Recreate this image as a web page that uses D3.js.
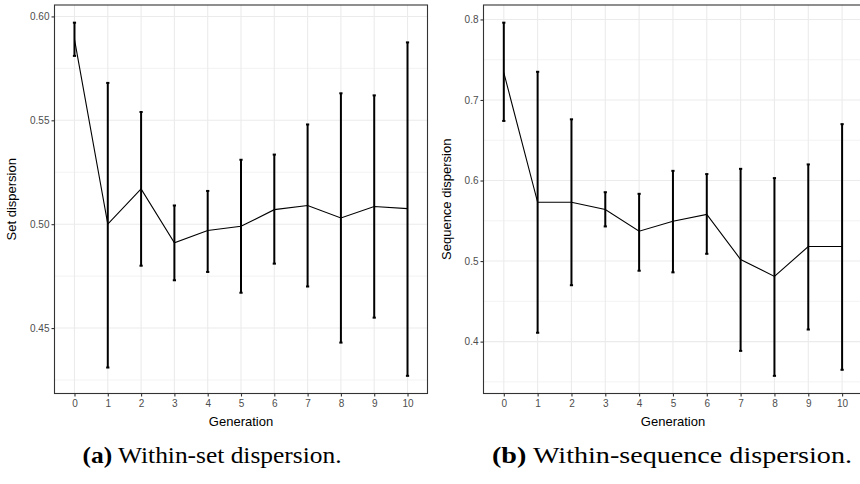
<!DOCTYPE html>
<html>
<head>
<meta charset="utf-8">
<script src="https://cdn.jsdelivr.net/npm/d3@7"></script>
<style>
  body { margin: 0; background: #fff; }
  svg { display: block; }
</style>
</head>
<body>
<div id="chart"></div>
<script>
var generations = [0, 1, 2, 3, 4, 5, 6, 7, 8, 9, 10];

// (a) within-set dispersion
var setMean  = [0.589, 0.500, 0.517, 0.491, 0.497, 0.499, 0.507, 0.509, 0.503, 0.5085, 0.5075];
var setLow   = [0.581, 0.431, 0.480, 0.473, 0.477, 0.467, 0.481, 0.470, 0.443, 0.455, 0.427];
var setHigh  = [0.597, 0.568, 0.554, 0.509, 0.516, 0.531, 0.5335, 0.548, 0.563, 0.562, 0.5875];
var setTicks = [0.45, 0.50, 0.55, 0.60];

// (b) within-sequence dispersion
var seqMean  = [0.734, 0.573, 0.573, 0.564, 0.537, 0.5495, 0.558, 0.502, 0.481, 0.518, 0.518];
var seqLow   = [0.674, 0.411, 0.470, 0.543, 0.488, 0.486, 0.509, 0.3885, 0.3575, 0.415, 0.365];
var seqHigh  = [0.796, 0.735, 0.676, 0.5855, 0.5835, 0.612, 0.608, 0.6145, 0.603, 0.620, 0.670];
var seqTicks = [0.4, 0.5, 0.6, 0.7, 0.8];

var svg = d3.select("#chart").append("svg")
  .attr("width", 860)
  .attr("height", 484);

function rows(mean, low, high) {
  return generations.map(function(g, i) {
    return {gen: g, mean: mean[i], low: low[i], high: high[i]};
  });
}

function panel(opt) {
  var data = rows(opt.mean, opt.low, opt.high);
  var left = opt.left, right = opt.right, top = 5, bottom = 393.5;

  var x = d3.scaleLinear().domain([-0.6, 10.6]).range([left, right]);
  var lo = d3.min(data, function(d) { return d.low; }),
      hi = d3.max(data, function(d) { return d.high; }),
      pad = (hi - lo) * 0.05;
  var y = d3.scaleLinear().domain([lo - pad, hi + pad]).range([bottom, top]);

  var g = svg.append("g");

  // minor grid
  var step = opt.ticks[1] - opt.ticks[0];
  var minor = [opt.ticks[0] - step / 2];
  opt.ticks.forEach(function(t) { minor.push(t + step / 2); });
  minor = minor.filter(function(v) { return v > y.domain()[0] && v < y.domain()[1]; });

  g.selectAll(".minor-y").data(minor).enter().append("line")
    .attr("x1", left).attr("x2", right)
    .attr("y1", function(d) { return y(d); }).attr("y2", function(d) { return y(d); })
    .style("stroke", "#ebebeb").style("stroke-width", 0.6);

  // major grid
  g.selectAll(".major-y").data(opt.ticks).enter().append("line")
    .attr("x1", left).attr("x2", right)
    .attr("y1", function(d) { return y(d); }).attr("y2", function(d) { return y(d); })
    .style("stroke", "#ebebeb").style("stroke-width", 1.1);

  g.selectAll(".major-x").data(generations).enter().append("line")
    .attr("y1", top).attr("y2", bottom)
    .attr("x1", function(d) { return x(d); }).attr("x2", function(d) { return x(d); })
    .style("stroke", "#ebebeb").style("stroke-width", 1.1);

  // error bars
  var bars = g.selectAll(".err").data(data).enter().append("g");
  bars.append("line")
    .attr("x1", function(d) { return x(d.gen); }).attr("x2", function(d) { return x(d.gen); })
    .attr("y1", function(d) { return y(d.low); }).attr("y2", function(d) { return y(d.high); })
    .style("stroke", "#000").style("stroke-width", 2);
  bars.append("line")
    .attr("x1", function(d) { return x(d.gen) - 1.6; }).attr("x2", function(d) { return x(d.gen) + 1.6; })
    .attr("y1", function(d) { return y(d.low); }).attr("y2", function(d) { return y(d.low); })
    .style("stroke", "#000").style("stroke-width", 2);
  bars.append("line")
    .attr("x1", function(d) { return x(d.gen) - 1.6; }).attr("x2", function(d) { return x(d.gen) + 1.6; })
    .attr("y1", function(d) { return y(d.high); }).attr("y2", function(d) { return y(d.high); })
    .style("stroke", "#000").style("stroke-width", 2);

  // mean line
  var line = d3.line()
    .x(function(d) { return x(d.gen); })
    .y(function(d) { return y(d.mean); });
  g.append("path").datum(data)
    .attr("d", line)
    .style("fill", "none")
    .style("stroke", "#000")
    .style("stroke-width", 1.1);

  // border
  g.append("rect")
    .attr("x", left).attr("y", top)
    .attr("width", right - left).attr("height", bottom - top)
    .style("fill", "none").style("stroke", "#333").style("stroke-width", 1.1);

  // axes
  var xAxis = g.append("g")
    .attr("transform", "translate(0," + bottom + ")")
    .call(d3.axisBottom(x).tickValues(generations).tickSize(3).tickPadding(3).tickFormat(d3.format("d")));
  var yAxis = g.append("g")
    .attr("transform", "translate(" + left + ",0)")
    .call(d3.axisLeft(y).tickValues(opt.ticks).tickSize(3).tickPadding(2).tickFormat(d3.format(opt.fmt)));
  [xAxis, yAxis].forEach(function(a) {
    a.select(".domain").remove();
    a.selectAll(".tick line").style("stroke", "#333").style("stroke-width", 1.1);
    a.selectAll(".tick text")
      .style("fill", "#4d4d4d")
      .style("font-family", "Liberation Sans, Arial, sans-serif")
      .style("font-size", "10px");
  });

  // axis titles
  g.append("text")
    .attr("x", opt.titleX)
    .attr("y", 426)
    .style("text-anchor", "middle")
    .style("font-family", "Liberation Sans, Arial, sans-serif")
    .style("font-size", "13px")
    .text("Generation");

  g.append("text")
    .attr("transform", "translate(" + opt.yTitleX + "," + ((top + bottom) / 2) + ") rotate(-90)")
    .style("text-anchor", "middle")
    .style("font-family", "Liberation Sans, Arial, sans-serif")
    .style("font-size", "13px")
    .text(opt.yTitle);

  // caption
  var cap = svg.append("text")
    .attr("x", opt.capX)
    .attr("y", 463)
    .attr("textLength", opt.capLen)
    .attr("lengthAdjust", "spacingAndGlyphs")
    .style("text-anchor", "middle")
    .style("font-family", "Liberation Serif, 'DejaVu Serif', serif")
    .style("font-size", "23px");
  cap.append("tspan").style("font-weight", "bold").text(opt.capTag);
  cap.append("tspan").text(" " + opt.caption);
}

panel({
  mean: setMean, low: setLow, high: setHigh, ticks: setTicks, fmt: ".2f",
  left: 54.5, right: 427.5, titleX: 241, yTitleX: 16,
  yTitle: "Set dispersion",
  capX: 212, capLen: 259, capTag: "(a)", caption: "Within-set dispersion."
});

panel({
  mean: seqMean, low: seqLow, high: seqHigh, ticks: seqTicks, fmt: ".1f",
  left: 483.5, right: 862.4, titleX: 673, yTitleX: 451,
  yTitle: "Sequence dispersion",
  capX: 672, capLen: 360, capTag: "(b)", caption: "Within-sequence dispersion."
});
</script>
</body>
</html>
